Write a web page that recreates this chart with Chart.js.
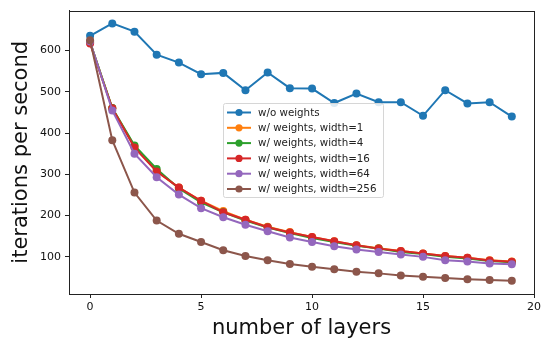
<!DOCTYPE html>
<html>
<head>
<meta charset="utf-8">
<script src="https://cdn.jsdelivr.net/npm/chart.js@4/dist/chart.umd.min.js"></script>
<style>
  html, body { margin: 0; padding: 0; background: #fff; }
  #c { display: block; }
</style>
</head>
<body>
<canvas id="c" width="544" height="339"></canvas>
<script>
const layers = [0, 1, 2, 3, 4, 5, 6, 7, 8, 9, 10, 11, 12, 13, 14, 15, 16, 17, 18, 19];
const woWeights = [636, 666, 646, 590, 571, 543, 546, 504, 547, 509, 508, 473, 496, 475, 475, 442, 504, 472, 475, 440];
const width1 = [620, 460, 368, 308, 268, 236, 211, 190, 173, 160, 148, 138, 128, 121, 114, 108, 102, 98, 92, 89];
const width4 = [621, 461, 370, 313, 266, 232, 208, 188, 171, 158, 146, 136, 127, 120, 112, 107, 100, 96, 90, 87];
const width16 = [617, 460, 365, 307, 268, 236, 208, 190, 172, 159, 148, 138, 128, 120, 114, 108, 102, 98, 91, 88];
const width64 = [622, 455, 350, 293, 251, 218, 196, 178, 162, 147, 136, 126, 118, 112, 106, 100, 92, 89, 84, 82];
const width256 = [625, 383, 256, 188, 156, 136, 116, 102, 92, 83, 76, 70, 64, 60, 55, 52, 49, 46, 44, 42];

const seriesNames = ["w/o weights", "w/ weights, width=1", "w/ weights, width=4", "w/ weights, width=16", "w/ weights, width=64", "w/ weights, width=256"];
const seriesColors = ["#1f77b4", "#ff7f0e", "#2ca02c", "#d62728", "#9467bd", "#8c564b"];
const seriesValues = [woWeights, width1, width4, width16, width64, width256];
const xTicks = [0, 5, 10, 15, 20];
const yTicks = [100, 200, 300, 400, 500, 600];

const FONT = "'DejaVu Sans', sans-serif";

const datasets = seriesValues.map((vals, i) => ({
  label: seriesNames[i],
  data: layers.map((x, j) => ({ x: x, y: vals[j] })),
  borderColor: seriesColors[i],
  backgroundColor: seriesColors[i],
  pointBackgroundColor: seriesColors[i],
  pointBorderColor: seriesColors[i],
  pointRadius: 4,
  pointBorderWidth: 0,
  borderWidth: 2,
  tension: 0,
  fill: false,
  order: seriesValues.length - 1 - i
}));

const frame = {
  id: 'frame',
  afterDatasetsDraw(chart) {
    const { ctx, chartArea: a } = chart;
    ctx.save();
    ctx.strokeStyle = '#222';
    ctx.lineWidth = 1;
    ctx.strokeRect(Math.round(a.left) + 0.5, Math.round(a.top) + 0.5, Math.round(a.right - a.left), Math.round(a.bottom - a.top));
    ctx.restore();
  }
};

const legendBox = {
  id: 'legendBox',
  afterDatasetsDraw(chart) {
    const ctx = chart.ctx;
    const x0 = 223, y0 = 103, w = 160, h = 94;
    ctx.save();
    ctx.fillStyle = 'rgba(255,255,255,0.85)';
    ctx.strokeStyle = '#d6d6d6';
    ctx.lineWidth = 1;
    ctx.beginPath();
    if (ctx.roundRect) ctx.roundRect(x0 + 0.5, y0 + 0.5, w, h, 2); else ctx.rect(x0 + 0.5, y0 + 0.5, w, h);
    ctx.fill();
    ctx.stroke();
    ctx.font = "10.3px " + FONT;
    ctx.textBaseline = 'middle';
    ctx.textAlign = 'left';
    seriesNames.forEach((name, i) => {
      const cy = y0 + 9.5 + i * 15.3;
      ctx.strokeStyle = seriesColors[i];
      ctx.lineWidth = 2;
      ctx.beginPath();
      ctx.moveTo(x0 + 4, cy);
      ctx.lineTo(x0 + 28, cy);
      ctx.stroke();
      ctx.fillStyle = seriesColors[i];
      ctx.beginPath();
      ctx.arc(x0 + 16, cy, 3.6, 0, Math.PI * 2);
      ctx.fill();
      ctx.fillStyle = '#222';
      ctx.fillText(name, x0 + 35, cy + 0.5);
    });
    ctx.restore();
  }
};

new Chart(document.getElementById('c'), {
  type: 'line',
  data: { datasets },
  plugins: [frame, legendBox],
  options: {
    responsive: false,
    devicePixelRatio: 1,
    animation: false,
    layout: { padding: { top: 9, right: 6, left: 0, bottom: 0 } },
    plugins: { legend: { display: false }, tooltip: { enabled: false } },
    scales: {
      x: {
        type: 'linear',
        min: -0.95,
        max: 20,
        afterBuildTicks(scale) { scale.ticks = xTicks.map(v => ({ value: v })); },
        afterFit(scale) { scale.height = 45; },
        grid: { drawOnChartArea: false, drawTicks: true, tickLength: 4, color: '#222', tickWidth: 1 },
        border: { display: true, color: '#222', width: 1 },
        ticks: { color: '#111', font: { family: FONT, size: 11 }, padding: 3, maxRotation: 0, autoSkip: false },
        title: { display: true, text: 'number of layers', color: '#111', font: { family: FONT, size: 21, lineHeight: 1 }, padding: { top: 0, bottom: 0 } }
      },
      y: {
        type: 'linear',
        min: 10,
        max: 697,
        afterBuildTicks(scale) { scale.ticks = yTicks.map(v => ({ value: v })); },
        afterFit(scale) { scale.width = 69; },
        grid: { drawOnChartArea: false, drawTicks: true, tickLength: 4, color: '#222', tickWidth: 1 },
        border: { display: true, color: '#222', width: 1 },
        ticks: { color: '#111', font: { family: FONT, size: 11 }, padding: 4, autoSkip: false },
        title: { display: true, text: 'iterations per second', color: '#111', font: { family: FONT, size: 21, lineHeight: 1.2 }, padding: { top: 9, bottom: 0 } }
      }
    }
  }
});
</script>
</body>
</html>
